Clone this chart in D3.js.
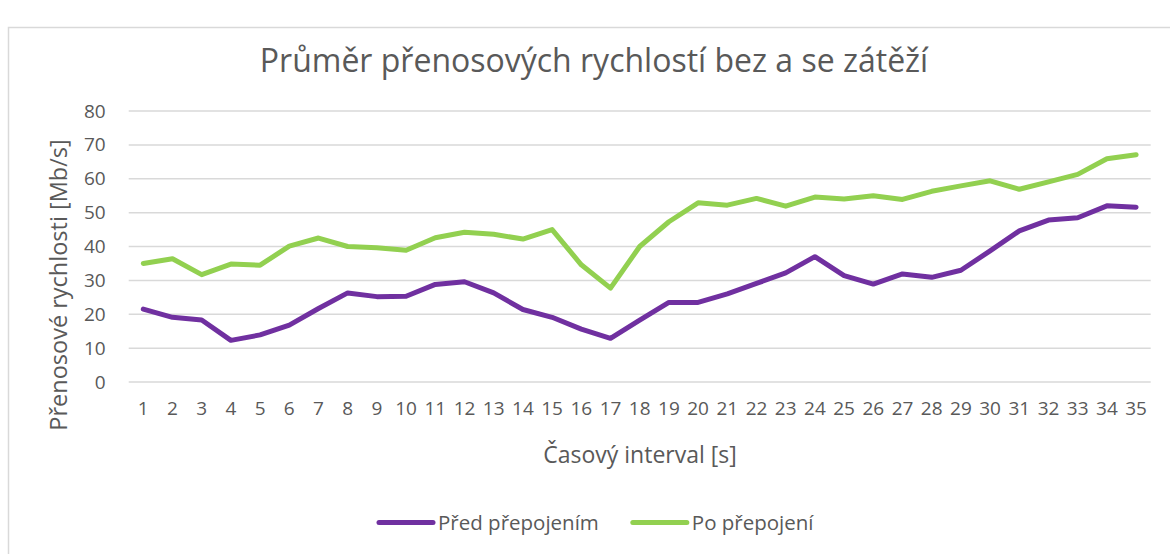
<!DOCTYPE html>
<html>
<head>
<meta charset="utf-8">
<script src="https://cdn.jsdelivr.net/npm/d3@7/dist/d3.min.js"></script>
<style>
  body { margin: 0; background: #fff; }
  svg text { font-family: "Open Sans", Lato, sans-serif; fill: #595959; }
</style>
</head>
<body>
<svg id="chart" width="1170" height="554"></svg>
<script>
// data
const intervals = d3.range(1, 36).map(String);
const predPrepojenim = [21.5, 19.1, 18.3, 12.3, 13.9, 16.8, 21.7, 26.3, 25.2, 25.3,
  28.8, 29.6, 26.3, 21.4, 19.1, 15.6, 12.9, 18.3, 23.5, 23.5,
  26.0, 29.1, 32.2, 37.0, 31.4, 28.9, 31.9, 30.9, 33.0, 38.7,
  44.6, 47.8, 48.5, 52.0, 51.6];
const poPrepojeni = [35.0, 36.4, 31.7, 34.8, 34.5, 40.1, 42.5, 40.0, 39.6, 38.9,
  42.6, 44.2, 43.6, 42.2, 45.0, 34.6, 27.7, 40.0, 47.3, 52.9,
  52.2, 54.2, 51.9, 54.6, 54.0, 55.0, 53.9, 56.3, 57.9, 59.4,
  56.9, 59.1, 61.3, 65.9, 67.1];
const yTicks = [0, 10, 20, 30, 40, 50, 60, 70, 80];
const seriesNames = ['Před přepojením', 'Po přepojení'];
const colors = ['#7030A0', '#92D050'];

const svg = d3.select('#chart');

// ramecek
svg.append('rect')
  .attr('x', 8.5).attr('y', 27.5)
  .attr('width', 1300).attr('height', 700)
  .attr('fill', '#fff').attr('stroke', '#D9D9D9').attr('stroke-width', 1.5);

// SCALES
const x = d3.scaleBand().domain(intervals).range([128.7, 1150.7]).padding(0);
const y = d3.scaleLinear().domain([0, 80]).range([382, 111]);

// mrizka
svg.append('g')
  .selectAll('line')
  .data(yTicks)
  .join('line')
  .attr('x1', 128.7).attr('x2', 1150.7)
  .attr('y1', d => y(d)).attr('y2', d => y(d))
  .attr('stroke', '#D9D9D9').attr('stroke-width', 1.5);

// osa Y
const yAxis = svg.append('g')
  .attr('transform', 'translate(128.7,0)')
  .call(d3.axisLeft(y).tickValues(yTicks).tickSize(0).tickPadding(23));
yAxis.select('.domain').remove();
yAxis.selectAll('text').attr('font-size', 19).attr('font-family', 'Open Sans').attr('fill', '#595959');

// osa X
const xAxis = svg.append('g')
  .attr('transform', 'translate(0,382)')
  .call(d3.axisBottom(x).tickSize(0).tickPadding(20));
xAxis.select('.domain').remove();
xAxis.selectAll('text').attr('font-size', 19).attr('font-family', 'Open Sans').attr('fill', '#595959');

// CARY
const line = d3.line()
  .x((d, i) => x(intervals[i]) + x.bandwidth() / 2)
  .y(d => y(d));

[predPrepojenim, poPrepojeni].forEach((s, k) => {
  svg.append('path')
    .datum(s)
    .attr('d', line)
    .attr('fill', 'none')
    .attr('stroke', colors[k])
    .attr('stroke-width', 5)
    .attr('stroke-linejoin', 'round')
    .attr('stroke-linecap', 'round');
});

// titulky
svg.append('text')
  .attr('x', 594).attr('y', 71.5)
  .attr('text-anchor', 'middle')
  .attr('font-size', 32)
  .text('Průměr přenosových rychlostí bez a se zátěží');

svg.append('text')
  .attr('x', 640).attr('y', 463)
  .attr('text-anchor', 'middle')
  .attr('font-size', 23)
  .text('Časový interval [s]');

svg.append('text')
  .attr('transform', 'translate(67,285) rotate(-90)')
  .attr('text-anchor', 'middle')
  .attr('font-size', 23.5)
  .text('Přenosové rychlosti [Mb/s]');

// LEGENDA
const legend = svg.append('g');
let lx = 379;
seriesNames.forEach((name, k) => {
  legend.append('line')
    .attr('x1', lx).attr('x2', lx + 54)
    .attr('y1', 522.5).attr('y2', 522.5)
    .attr('stroke', colors[k]).attr('stroke-width', 5)
    .attr('stroke-linecap', 'round');
  const t = legend.append('text')
    .attr('x', lx + 59).attr('y', 529.5)
    .attr('font-size', 20.5)
    .text(name);
  lx += 59 + t.node().getComputedTextLength() + 34;
});
</script>
</body>
</html>
